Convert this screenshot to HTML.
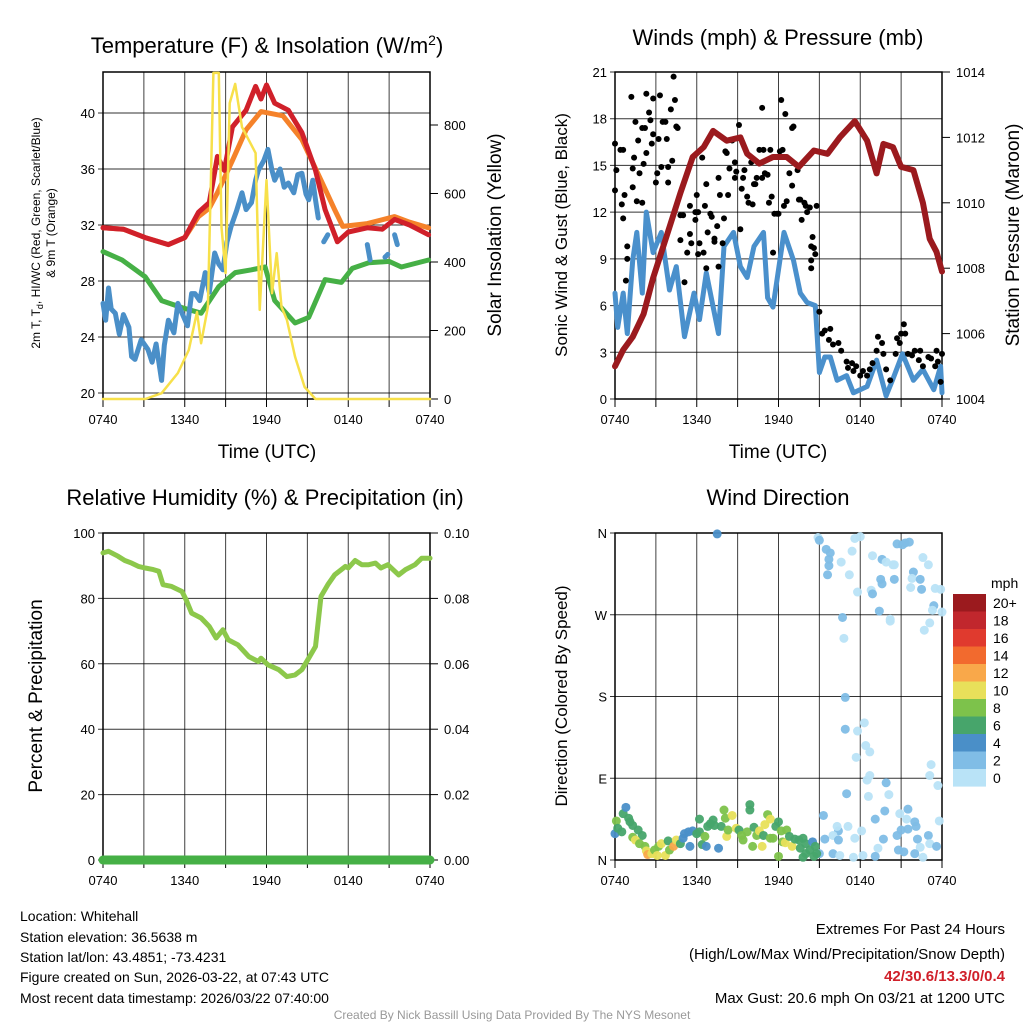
<!DOCTYPE html>
<html><head><meta charset="utf-8"><style>
body{margin:0;background:#fff;}
svg{display:block;font-family:"Liberation Sans",Arial,sans-serif;}
</style></head><body>
<svg id="s" width="1024" height="1024" viewBox="0 0 1024 1024">
<g id="static">
<text x="267" y="53" font-size="22" text-anchor="middle">Temperature (F) &amp; Insolation (W/m<tspan dy="-8" font-size="14">2</tspan><tspan dy="8">)</tspan></text>
<text x="778" y="45" font-size="22" text-anchor="middle">Winds (mph) &amp; Pressure (mb)</text>
<text x="265" y="505" font-size="22" text-anchor="middle">Relative Humidity (%) &amp; Precipitation (in)</text>
<text x="778" y="505" font-size="22" text-anchor="middle">Wind Direction</text>
<text transform="translate(40,233) rotate(-90)" font-size="12" text-anchor="middle">2m T, T<tspan dy="3" font-size="9">d</tspan><tspan dy="-3">, HI/WC (Red, Green, Scarlet/Blue)</tspan></text>
<text transform="translate(55,233) rotate(-90)" font-size="12" text-anchor="middle">&amp; 9m T (Orange)</text>
<text transform="translate(501,235) rotate(-90)" font-size="19" text-anchor="middle">Solar Insolation (Yellow)</text>
<text transform="translate(567,235) rotate(-90)" font-size="17" text-anchor="middle">Sonic Wind &amp; Gust (Blue, Black)</text>
<text transform="translate(1019,235) rotate(-90)" font-size="19" text-anchor="middle">Station Pressure (Maroon)</text>
<text transform="translate(42,696) rotate(-90)" font-size="19" text-anchor="middle">Percent &amp; Precipitation</text>
<text transform="translate(567,696) rotate(-90)" font-size="17" text-anchor="middle">Direction (Colored By Speed)</text>
<text x="267" y="458" font-size="19" text-anchor="middle">Time (UTC)</text>
<text x="778" y="458" font-size="19" text-anchor="middle">Time (UTC)</text>
<text x="991" y="588" font-size="14" text-anchor="start">mph</text>
<g font-size="14">
<text x="20" y="921">Location: Whitehall</text>
<text x="20" y="942">Station elevation: 36.5638 m</text>
<text x="20" y="962">Station lat/lon: 43.4851; -73.4231</text>
<text x="20" y="982">Figure created on Sun, 2026-03-22, at 07:43 UTC</text>
<text x="20" y="1003">Most recent data timestamp: 2026/03/22 07:40:00</text>
</g>
<g font-size="15" text-anchor="end">
<text x="1005" y="934">Extremes For Past 24 Hours</text>
<text x="1005" y="959">(High/Low/Max Wind/Precipitation/Snow Depth)</text>
<text x="1005" y="981" fill="#d0202a" font-weight="bold">42/30.6/13.3/0/0.4</text>
<text x="1005" y="1003">Max Gust: 20.6 mph On 03/21 at 1200 UTC</text>
</g>
<text x="512" y="1019" font-size="12" fill="#999" text-anchor="middle">Created By Nick Bassill Using Data Provided By The NYS Mesonet</text>
</g>
</svg>
<script>
// ---- data (hours since 0740 UTC) ----
const xLabels=["0740","1340","1940","0140","0740"];
const redH=[0,1.5,3.1,4.8,6,7,7.8,8.4,8.9,9.5,10.5,11.2,11.6,12,12.6,13.6,14.6,15.6,16.3,17.2,18,19.4,20.5,21.4,22.5,23.9];
const redT=[31.8,31.7,31.1,30.6,31.1,32.9,33.6,36.9,35.9,39,40.2,41.9,41,42,40.7,40.2,38.6,35.9,33.1,30.8,31.5,31.8,31.7,32.4,32,31.3];
const orH=[0,1.5,3.1,4.8,6,7,7.8,8.4,9.5,10.5,11.6,13.2,14.6,16,17,17.6,19.4,21.4,22.5,23.9];
const orT=[31.8,31.7,31.1,30.6,31.1,32.6,33.2,34.3,36.6,38.8,40.1,39.8,38.1,35.2,33.1,31.9,32.1,32.6,32.2,31.8];
const blH=[0,0.2,0.4,0.6,0.9,1.2,1.5,1.9,2.1,2.35,2.8,3.3,3.6,3.9,4.3,4.5,4.8,5.2,5.5,5.8,6.2,6.5,6.75,7.1,7.5,7.8,8.2,8.5,8.8,9.1,9.4,9.8,10.2,10.5,10.9,11.2,11.4,11.8,12.1,12.4,12.6,13,13.3,13.6,14,14.3,14.6,14.9,15.1,15.4,15.6,15.8];
const blT=[26.4,25.2,27.5,26,25.7,24.2,25.6,24.7,22.6,22.4,23.8,23.1,22.2,23.5,20.9,23.4,25.2,24.3,26.4,25.7,24.8,27.1,27.1,26.6,28.6,27.2,30,29.2,28.8,30.8,31.9,33,34.3,33.1,33.6,35.2,35.9,36.6,37.4,35.9,35.2,36,34.7,35,34.3,35.6,35.7,34.2,33.8,35.2,33.8,32.5];
const blSegH=[[16.2,16.5],[19.4,19.6],[20.7,20.9],[21.4,21.6]];
const blSegT=[[30.8,31.3],[30.6,29.5],[29.7,29.9],[31.3,30.6]];
const grH=[0,1.4,3.1,4.3,5.8,7.2,8.5,9.7,10.9,11.9,12.6,14.1,15.1,16.3,17.5,18.3,19.5,21,21.9,23.9];
const grT=[30.1,29.5,28.3,26.6,26.1,25.7,27.6,28.6,28.8,29,26.6,25,25.4,28.1,27.9,28.9,29.3,29.4,29,29.5];
const solH=[0,3.1,4.3,5.5,6.3,6.9,7.2,7.7,8.1,8.5,8.7,9,9.3,9.7,10.2,11.2,11.5,12,12.4,12.75,13.1,13.5,14.1,14.8,15.6,24];
const solW=[0,0,17,76,143,254,163,269,952,952,502,368,864,920,794,718,260,639,309,426,269,231,123,35,0,0];
const presH=[0,0.6,1.3,2.1,2.8,3.8,4.8,5.7,6.5,7.2,8.2,9.2,9.7,10.6,11.6,12.6,13.5,14.6,15.6,16.5,17.6,18.5,19.2,19.7,20.4,21,21.9,22.6,23.1,23.6,24];
const presP=[1005.0,1005.5,1005.9,1006.6,1007.7,1009,1010.3,1011.4,1011.7,1012.2,1011.9,1012,1011.5,1011.2,1011.4,1011.4,1011.1,1011.6,1011.5,1012,1012.5,1011.9,1010.9,1011.8,1011.7,1011.1,1011,1010,1008.9,1008.5,1007.9];
const wsH=[0,0.2,0.6,0.9,1.3,1.6,2,2.3,2.8,3.4,4,4.5,5.1,5.8,6.2,6.7,7.6,8,8.7,9.2,9.7,10.2,10.9,11.2,11.6,12.4,13.1,13.6,14.1,14.7,15,15.4,15.8,16.3,17,17.5,18.5,19.2,19.9,20.4,21.1,21.9,22.6,23.4,23.9,24];
const wsS=[6.8,4.6,6.8,4.2,8.9,10.7,6.8,12,9.4,10.7,7,8.5,4,6.8,5.1,8.1,4.2,9.8,10.7,8.5,7.8,9.8,10.7,6.5,5.9,10.7,8.9,6.8,6.2,6,1.7,2.7,2.7,1.2,1.5,0.4,0.8,2.5,0.2,1.3,2.9,1.2,1.9,0.6,2.1,0.4];
const gustH=[0,0,0.1,0.4,0.6,0.5,0.6,0.7,0.9,0.9,0.8,1.2,1.3,1.5,1.4,1.3,1.6,1.8,1.7,2,2,2.2,2.3,2.3,2.5,2.6,2.1,2.7,2.8,2.8,3,3.1,3.2,3.3,3.4,3.5,3.7,3.8,3.9,3.9,4.1,4.2,4.3,4.4,4.5,4.6,4.8,4.8,5,5.1,5.3,5.5,5.5,5.6,6,5.9,5.9,6.1,6.1,6.2,6.4,6.5,6.6,6.7,6.8,6.7,7,7.1,7.3,7.3,7.5,7.6,7.6,7.7,7.9,8,8.1,8.2,8.3,8.4,8.6,8.8,8.8,8.9,9.1,9.2,9.3,9.4,9.5,9.7,9.8,10,10.1,10.2,10.3,10.4,10.6,10.8,10.8,10.9,11,11.2,11.3,11.4,11.5,11.6,11.7,11.9,12,12.1,12.2,12.3,12.4,12.5,12.6,12.8,13,13,13.1,13.4,13.5,13.6,13.7,13.9,14,14.1,14.3,14.4,14.4,14.5,14.6,14.7,14.4,14.8,15,15.2,15.4,15.8,15.7,16,16.4,16.6,17,17.1,17.4,17.5,17.7,18,18.2,18.5,18.7,18.9,19.2,19.3,19.6,19.7,19.9,20.2,20.6,20.7,20.9,21,21.2,21.3,21.5,21.8,22,22.3,22.4,22.6,23,23.2,23.5,23.6,23.7,23.9,24];
const gustS=[16.4,13.4,14.7,16,16,12.5,11.6,13.1,9.8,9,7.6,19.4,13.6,17.8,15.5,14.8,12.7,14.5,16.6,17.4,12.6,17.4,19.6,15.8,18.4,17.9,15.1,16.4,19.3,17,13.9,14.5,16.7,19.5,14.9,17.8,17.8,16.7,14.9,13.9,18.6,15.3,20.7,19.2,17.5,17.4,11.8,10.2,11.8,7.5,9.4,12.4,10.6,10,13.1,11.5,12,12,9.3,10,15.5,9.4,12.4,8.4,10.7,13.8,11.9,11.7,10.3,10.1,11.1,14.2,8.5,13.1,10,11.6,15.9,15.8,13.1,14.8,16.6,14.2,15.2,14.6,17.6,10.9,13.5,14.2,14.7,13,12.6,15.2,12.5,13.8,13.8,14.2,16,18.7,14.2,16,14.5,14.4,12.6,16,13,9.4,11.9,11.9,11.9,15.9,19.2,16,12.4,18.3,12.7,14.5,17.4,13.7,17.5,14.7,12.8,12.8,11.5,12.6,12.4,12,12.3,9.8,8.9,10.4,9.7,9.3,8.4,12.4,5.6,4.2,4.4,4.5,3.8,3.5,3.6,3.1,2.4,2,2.3,1.8,2.1,1.5,1.8,1.5,1.9,2.3,3.1,4,3.6,2.9,1.9,1.2,2.9,3.9,3.6,4.2,4.8,4.2,2.9,2.8,3.1,2.5,3.1,2.1,2.7,2.6,2.1,3.1,2.4,1.1,2.9];
const rhH=[0,0.4,1.1,1.6,2.1,2.6,3.1,3.7,4.1,4.4,5,5.8,6.1,6.5,7.2,7.8,8.3,8.8,9.2,9.9,10.7,11.4,11.6,12.1,12.9,13.5,14.1,14.6,15.1,15.6,16,16.5,17,17.8,18,18.5,19,19.5,20,20.4,20.9,21.7,22.2,22.9,23.4,24];
const rhV=[93.9,94.4,92.9,91.6,90.8,89.8,89.3,88.8,88.3,84.2,83.7,82.1,79.6,75.5,74,71.4,67.9,70.4,67.3,65.8,62.2,60.7,61.7,59.7,58.2,56.1,56.6,58.2,61.7,65.3,80.6,84.2,87.2,89.8,89.3,91.6,90.3,90.3,90.8,89.3,90.3,87.2,88.8,90.3,92.3,92.3];
const precipH=[0,24];
const precipV=[0,0];
const dirH=[7.5,14.9,15,15.5,15.8,15.7,15.7,15.6,16.6,17.4,17.6,18,17.2,17.8,18.9,19.6,19.9,20.4,20.5,19.5,19.6,18.8,18.9,20.5,20.7,21.1,21.6,21.3,22.6,23,21.9,21.8,22.4,21.7,22.5,23.5,23.9,23.4,23.3,24,19.4,20.2,20.2,23.1,22.7,16.7,16.8,16.9,16.9,17.8,18.3,18.4,18.7,17.7,23.2,23.1,23.7,18.7,18.5,19.9,20.1,17,18.6,19.8,19.1,20.9,21.5,21.4,22,22.1,21,21.5,20.7,22.2,23,23.8,23.1,22.4,23.6,22.6,20.8,21.2,22,19.7,19.3,19.1,18.2,17.5,18.1,17.6,17.1,16.4,16.3,16,16.4,16,16.5,15.3,15.4,15,
0,0.1,0.2,0.5,0.6,0.8,1,1.1,1.3,1.7,2,1.3,1.5,1.8,2.2,2.3,2.4,2.7,2.9,3.2,3.4,3.1,3.7,3.9,4,4.3,4.5,4.8,5,5.1,5.5,5.4,5.7,6,6.2,6.2,6.4,6.6,6.7,6.8,7,7.2,7.3,7.6,7.8,8,8.1,8.2,8.3,8.6,8.9,9.1,9.3,9.4,9.7,9.9,9.9,10.1,10.2,10.4,10.6,10.8,10.9,11,11.2,11.4,11.4,11.6,11.8,12,12,12.2,12.3,12.5,12.6,12.8,13,13.2,13.5,13.6,13.8,14,14,13.8,14.3,14.5,14.7,14.6,14.8];
const dirD=[359,355,352,342,338,331,324,314,328,340,354,356,314,295,335,331,328,325,325,309,304,297,293,309,348,347,350,349,333,325,317,310,309,300,298,299,298,280,275,273,274,265,263,261,253,267,244,179,144,142,151,126,119,113,105,93,82,93,88,85,72,73,70,54,45,51,56,45,42,37,33,34,27,23,27,43,18,14,15,3,11,9,7,23,13,4,5,3,32,24,37,32,37,27,22,7,5,49,23,7,
29,43,35,31,51,58,46,42,38,33,27,25,22,18,15,10,6,7,11,15,18,5,5,21,11,15,22,18,24,29,15,31,32,29,31,45,17,26,15,37,40,44,38,13,37,55,46,26,33,49,35,33,27,22,31,55,61,15,36,27,32,15,27,39,50,45,24,24,37,42,4,32,20,19,33,26,15,23,22,13,24,18,7,3,11,20,15,4,7];
const dirS=[5,1,3,3,3,3,3,3,1,1,1,1,1,1,1,3,1,1,1,3,3,1,3,3,3,3,3,3,1,1,3,1,3,1,3,1,1,3,1,1,3,1,1,1,1,3,1,3,3,1,1,1,1,1,1,1,1,1,1,3,1,3,1,3,3,1,3,1,3,3,3,3,3,3,3,1,1,1,3,1,3,3,3,3,1,3,1,1,1,1,1,3,1,1,3,3,1,3,3,3,
5,9,7,7,7,5,7,7,7,7,7,9,11,9,9,11,13,11,9,9,11,11,11,7,9,13,11,7,5,5,5,5,5,7,7,7,7,9,5,7,7,7,7,5,7,9,9,11,9,11,11,7,9,9,9,7,7,9,7,9,11,11,7,11,9,11,9,9,7,7,9,9,9,11,9,7,11,7,7,7,7,7,7,7,7,5,7,7,7];
const cbLabels=["20+","18","16","14","12","10","8","6","4","2","0"];
const cbColors=["#9b1a1e","#c1272d","#e03a2e","#f26a2e","#f9a84a","#e8e05a","#7dc24b","#47a56b","#4a8fc8","#80bde6","#b9e3f7"];
const tempTicks=[20,24,28,32,36,40];
const solTicks=[0,200,400,600,800];
const windTicks=[0,3,6,9,12,15,18,21];
const presTicks=[1004,1006,1008,1010,1012,1014];
const rhTicks=[0,20,40,60,80,100];
const prTicks=[0,0.02,0.04,0.06,0.08,0.1];
const dirTicks=[0,90,180,270,360];
const dirLabels=["N","E","S","W","N"];

const NS="http://www.w3.org/2000/svg";
const svg=document.getElementById('s');
function mk(tag,at,parent){const e=document.createElementNS(NS,tag);for(const k in at)e.setAttribute(k,at[k]);(parent||svg).appendChild(e);return e;}
function lin(d0,d1,r0,r1){return v=>r0+(v-d0)*(r1-r0)/(d1-d0);}
function pathOf(xs,ys,fx,fy){return xs.map((h,i)=>(i?'L':'M')+fx(h).toFixed(1)+','+fy(ys[i]).toFixed(1)).join('');}

function panel(name,L,T,R,B,ly,lTicks,lFmt,ry,rTicks,rFmt){
  const g=mk('g',{});
  
  
  const fx=lin(0,24,L,R);
  for(let h=3;h<24;h+=3){const l=mk('line',{x1:fx(h),x2:fx(h),y1:T,y2:B,stroke:'#000','stroke-width':1,opacity:0.75},g);
    
    }
  for(let h=0;h<=24;h+=3){const l=mk('line',{x1:fx(h),x2:fx(h),y1:B,y2:B+8,stroke:'#000','stroke-width':1},g);
    
    }
  xLabels.forEach((s,i)=>{const t=mk('text',{x:fx(i*6),y:B+25,'font-size':13,'text-anchor':'middle'},g);t.textContent=s;
    
    });
  lTicks.forEach(v=>{const y=ly(v);
    const l=mk('line',{x1:L-5,x2:R,y1:y,y2:y,stroke:'#000','stroke-width':1,opacity:0.8},g);
    
    
    const t=mk('text',{x:L-8,y:y+5,'font-size':13,'text-anchor':'end'},g);t.textContent=lFmt(v);
    
    });
  if(ry){rTicks.forEach(v=>{const y=ry(v);
    const l=mk('line',{x1:R,x2:R+8,y1:y,y2:y,stroke:'#000','stroke-width':1},g);
    
    
    const t=mk('text',{x:R+14,y:y+5,'font-size':13,'text-anchor':'start'},g);t.textContent=rFmt(v);
    
    });}
  const r=mk('rect',{x:L,y:T,width:R-L,height:B-T,fill:'none',stroke:'#000','stroke-width':1.5},g);
  
  
  return fx;
}
function line(xs,ys,fx,fy,col,w,name,parent){const p=mk('path',{d:pathOf(xs,ys,fx,fy),fill:'none',stroke:col,'stroke-width':w,'stroke-linejoin':'round','stroke-linecap':'round'},parent);
  
  return p;}

// Panel 1
const tY=lin(20,40,393,113), sY=lin(0,800,399,125);
const fx1=panel('temp',103,72,430,399,tY,tempTicks,v=>v,sY,solTicks,v=>v);
line(grH,grT,fx1,tY,'#46b046',5,'heat-index-line');
line(blH,blT,fx1,tY,'#4a8fc8',5,'dewpoint-line');
blSegH.forEach((hs,i)=>line(hs,blSegT[i],fx1,tY,'#4a8fc8',5,'dewpoint-segment'));
line(orH,orT,fx1,tY,'#f5822a',5,'temp-9m-line');
line(redH,redT,fx1,tY,'#d0202a',5,'temp-2m-line');
line(solH,solW,fx1,sY,'#f7e04a',2.5,'solar-line');

// Panel 2
const wY=lin(0,21,399,72), pY=lin(1004,1014,399,72);
const fx2=panel('wind',615,72,942,399,wY,windTicks,v=>v,pY,presTicks,v=>v);
line(wsH,wsS,fx2,wY,'#4a90cc',5,'wind-speed-line');
gustH.forEach((h,i)=>{const c=mk('circle',{cx:fx2(h),cy:wY(gustS[i]),r:3,fill:'#000'});
  
  });
line(presH,presP,fx2,pY,'#9b1a1e',6,'pressure-line');

// Panel 3
const rY=lin(0,100,860,533), prY=lin(0,0.1,860,533);
const fx3=panel('rh',103,533,430,860,rY,rhTicks,v=>v,prY,prTicks,v=>v.toFixed(2));
line(rhH,rhV,fx3,rY,'#8cc84b',5,'rh-line');
line(precipH,precipV,fx3,prY,'#46b046',9,'precip-line');

// Panel 4
const dY=lin(0,360,860,533);
const fx4=panel('direction',615,533,942,860,dY,dirTicks,v=>dirLabels[dirTicks.indexOf(v)],null,null,null);
dirH.forEach((h,i)=>{const b=Math.min(10,Math.floor(dirS[i]/2));
  const c=mk('circle',{cx:fx4(h),cy:dY(dirD[i]),r:4.5,fill:cbColors[10-b],opacity:0.95});
  
  });

// Colorbar
cbColors.forEach((col,i)=>{const y=594+i*17.5;
  const r=mk('rect',{x:953,y:y,width:33,height:17.6,fill:col});
  
  
  const t=mk('text',{x:993,y:y+14,'font-size':14});t.textContent=cbLabels[i];
  
  });
</script>
</body></html>
